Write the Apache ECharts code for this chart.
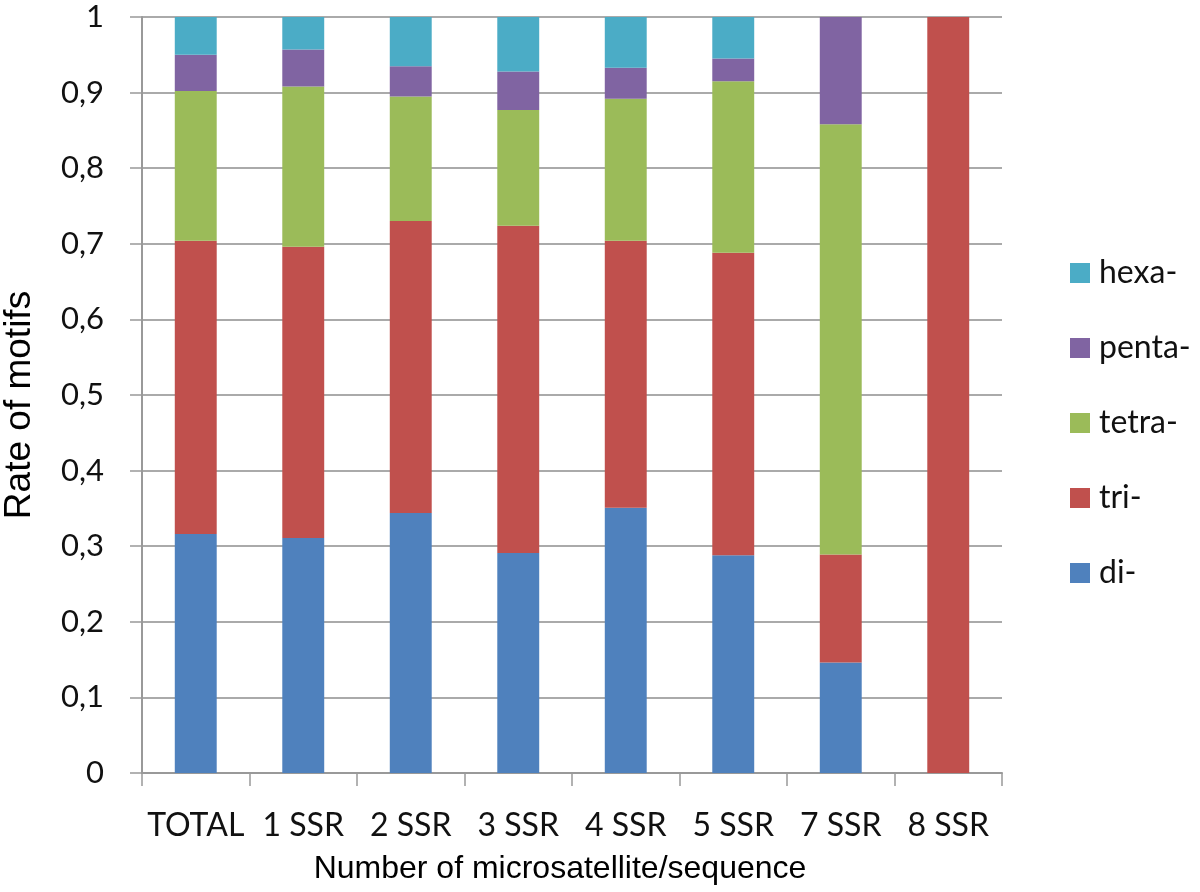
<!DOCTYPE html>
<html>
<head>
<meta charset="utf-8">
<script src="https://cdn.jsdelivr.net/npm/echarts@6/dist/echarts.min.js"></script>
<style>
  html, body { margin: 0; padding: 0; background: #fff; }
  #chart { width: 1200px; height: 892px; }
</style>
</head>
<body>
<div id="chart"></div>
<script>
// categories and stacked segment values
const categories = ['TOTAL', '1 SSR', '2 SSR', '3 SSR', '4 SSR', '5 SSR', '7 SSR', '8 SSR']
const di    = [0.316, 0.311, 0.344, 0.291, 0.351, 0.288, 0.146, 0]
const tri   = [0.388, 0.385, 0.386, 0.433, 0.353, 0.400, 0.143, 1]
const tetra = [0.198, 0.212, 0.165, 0.153, 0.188, 0.227, 0.569, 0]
const penta = [0.048, 0.049, 0.040, 0.051, 0.041, 0.030, 0.142, 0]
const hexa  = [0.050, 0.043, 0.065, 0.072, 0.067, 0.055, 0,     0]
const legendOrder = ['hexa-', 'penta-', 'tetra-', 'tri-', 'di-']

const tickFont = 'Lato, "Open Sans", sans-serif'
const plain = '"Liberation Sans", Arial, sans-serif'

const chart = echarts.init(document.getElementById('chart'))

function bar(name, data, color) {
  return {
    name: name,
    type: 'bar',
    stack: 'motifs',
    barWidth: '39%',
    itemStyle: { color: color },
    data: data
  }
}

chart.setOption({
  animation: false,
  grid: { left: 142, right: 198, top: 17, bottom: 119, outerBoundsMode: 'none', containLabel: false },
  legend: {
    orient: 'vertical',
    left: 1065,
    top: 252,
    itemWidth: 20,
    itemHeight: 20,
    itemGap: 43,
    icon: 'rect',
    data: legendOrder,
    textStyle: { fontFamily: tickFont, fontSize: 32, color: '#111', padding: [0, 0, 0, 4] }
  },
  xAxis: {
    type: 'category',
    data: categories,
    name: 'Number of microsatellite/sequence',
    nameLocation: 'middle',
    nameGap: 80,
    nameTextStyle: { fontFamily: plain, fontSize: 32, color: '#000', padding: [0, 24, 0, 0] },
    axisLine: { lineStyle: { color: '#999', width: 2 } },
    axisTick: { show: true, length: 13, lineStyle: { color: '#999', width: 1.5 } },
    axisLabel: { interval: 0, fontFamily: tickFont, fontSize: 32, color: '#111', margin: 37 }
  },
  yAxis: {
    type: 'value',
    min: 0,
    max: 1,
    interval: 0.1,
    name: 'Rate of motifs',
    nameLocation: 'middle',
    nameGap: 104,
    nameTextStyle: { fontFamily: plain, fontSize: 37, color: '#000', padding: [0, 20, 0, 0] },
    axisLine: { show: true, lineStyle: { color: '#999', width: 2 } },
    axisTick: { show: true, length: 12, lineStyle: { color: '#999', width: 1.5 } },
    splitLine: { lineStyle: { color: '#aaa', width: 2 } },
    axisLabel: {
      fontFamily: tickFont,
      fontSize: 31,
      color: '#111',
      margin: 38,
      formatter: v => (Math.round(v * 10) / 10).toString().replace('.', ',')
    }
  },
  series: [
    bar('di-', di, '#4F81BD'),
    bar('tri-', tri, '#C0504D'),
    bar('tetra-', tetra, '#9BBB59'),
    bar('penta-', penta, '#8064A2'),
    bar('hexa-', hexa, '#4BACC6')
  ]
})
</script>
</body>
</html>
